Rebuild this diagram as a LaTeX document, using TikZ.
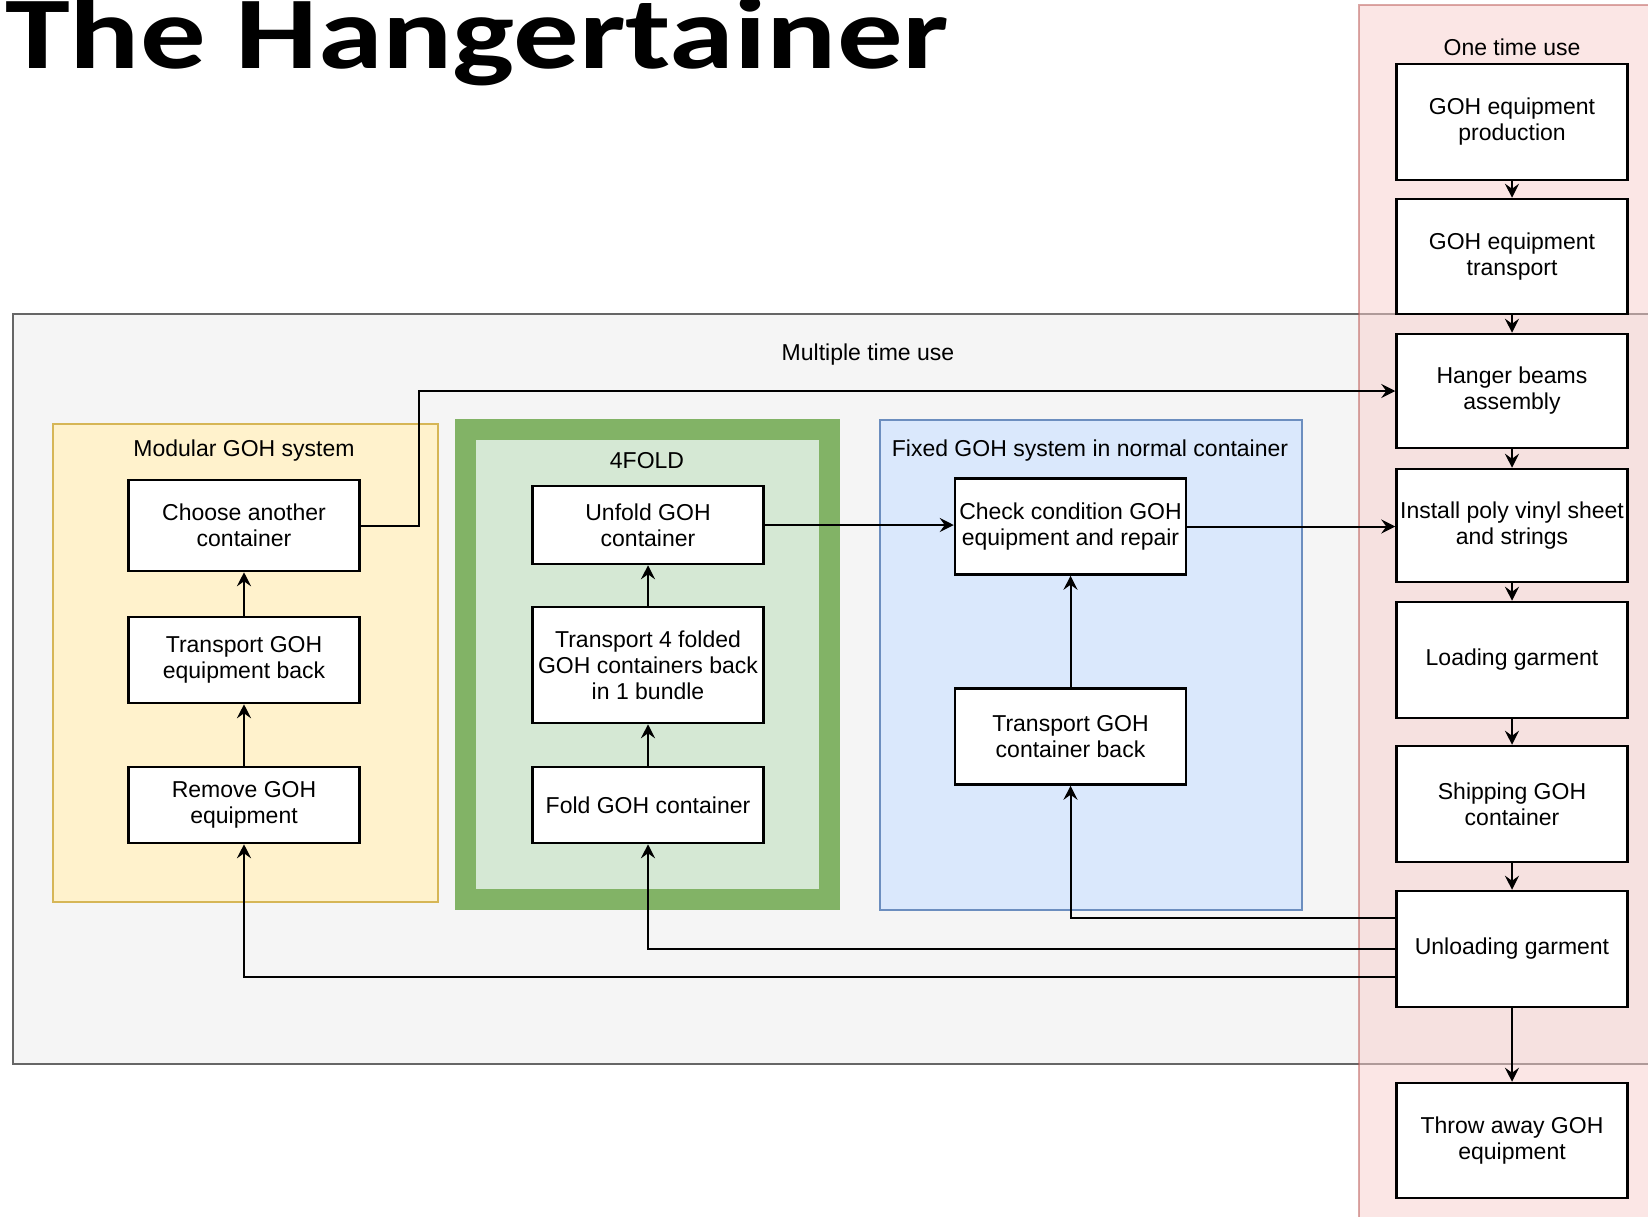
\documentclass[tikz,border=0pt]{standalone}
\usepackage{fontspec}
\setmainfont{Liberation Sans}
\newfontfamily\titlefont{Carlito}
\usetikzlibrary{arrows.meta}

\definecolor{multifill}{HTML}{F5F5F5}
\definecolor{multidraw}{HTML}{666666}
\definecolor{onefill}{HTML}{F8CECC}
\definecolor{onedraw}{HTML}{B85450}
\definecolor{modfill}{HTML}{FFF2CC}
\definecolor{moddraw}{HTML}{D6B656}
\definecolor{foldfill}{HTML}{D5E8D4}
\definecolor{folddraw}{HTML}{82B366}
\definecolor{fixfill}{HTML}{DAE8FC}
\definecolor{fixdraw}{HTML}{6C8EBF}

\begin{document}
\begin{tikzpicture}[
  x=1pt, y=-1pt,
  step_box/.style={rectangle, draw, line width=2.5pt, fill=white, minimum width=231pt, inner sep=1pt, align=center, font=\fontsize{23}{26}\selectfont},
  group_label/.style={inner sep=0pt, font=\fontsize{23}{26}\selectfont},
  flow_arrow/.style={line width=2pt, -{Stealth[length=14pt, width=14pt, inset=5pt]}},
]
\useasboundingbox (0,0) rectangle (1648,1216);

% groups
\draw[fill=multifill, draw=multidraw, line width=2pt] (13,314) rectangle (1670,1064);
\draw[fill=onefill, draw=onedraw, line width=2pt, fill opacity=0.5, draw opacity=0.5] (1359,5) rectangle (1670,1240);
\draw[fill=modfill, draw=moddraw, line width=2pt] (53,424) rectangle (438,902);
\draw[fill=foldfill, draw=folddraw, line width=21pt] (465,429.5) rectangle (829.5,899.5);
\draw[fill=fixfill, draw=fixdraw, line width=2pt] (879.5,420) rectangle (1301.5,910);

\draw (5,68) node (title) [anchor=base west, inner sep=0pt, font=\titlefont\bfseries\fontsize{103}{110}\selectfont] {\scalebox{1.27}[1]{The Hangertainer}};
\draw (868,355) node (multi) [group_label] {Multiple time use};
\draw (1512,47) node (once) [group_label] {One time use};
\draw (244,451) node (modular) [group_label] {Modular GOH system};
\draw (647,461) node (fourfold) [group_label] {4FOLD};
\draw (1090,451) node (fixed) [group_label] {Fixed GOH system in normal container};

% one time use
\draw (1512,122) node (prod) [step_box, minimum height=116pt] {GOH equipment\\production};
\draw (1512,256.5) node (trans_eq) [step_box, minimum height=115pt] {GOH equipment\\transport};
\draw (1512,391) node (hanger) [step_box, minimum height=114pt] {Hanger beams\\assembly};
\draw (1512,525.5) node (install) [step_box, minimum height=113pt] {Install poly vinyl sheet\\and strings};
\draw (1512,660) node (loading) [step_box, minimum height=116pt] {Loading garment};
\draw (1512,804) node (shipping) [step_box, minimum height=116pt] {Shipping GOH\\container};
\draw (1512,949) node (unload) [step_box, minimum height=116pt] {Unloading garment};
\draw (1512,1140.5) node (throw) [step_box, minimum height=115pt] {Throw away GOH\\equipment};

% modular
\draw (244,525.5) node (choose) [step_box, minimum height=91pt] {Choose another\\container};
\draw (244,660) node (back_eq) [step_box, minimum height=86pt] {Transport GOH\\equipment back};
\draw (244,805) node (remove) [step_box, minimum height=76pt] {Remove GOH\\equipment};

% 4fold
\draw (648,525) node (unfold) [step_box, minimum height=78pt] {Unfold GOH\\container};
\draw (648,665) node (bundle) [step_box, minimum height=116pt] {Transport 4 folded\\GOH containers back\\in 1 bundle};
\draw (648,805) node (fold) [step_box, minimum height=76pt] {Fold GOH container};

% fixed
\draw (1070.5,526.5) node (check) [step_box, minimum height=96pt] {Check condition GOH\\equipment and repair};
\draw (1070.5,736.5) node (back_cont) [step_box, minimum height=96pt] {Transport GOH\\container back};

% arrows
\draw[flow_arrow] (prod) -- (trans_eq);
\draw[flow_arrow] (trans_eq) -- (hanger);
\draw[flow_arrow] (hanger) -- (install);
\draw[flow_arrow] (install) -- (loading);
\draw[flow_arrow] (loading) -- (shipping);
\draw[flow_arrow] (shipping) -- (unload);
\draw[flow_arrow] (unload) -- (throw);
\draw[flow_arrow] (remove) -- (back_eq);
\draw[flow_arrow] (back_eq) -- (choose);
\draw[flow_arrow] (fold) -- (bundle);
\draw[flow_arrow] (bundle) -- (unfold);
\draw[flow_arrow] (back_cont) -- (check);
\draw[flow_arrow] (choose.east) -- ++(58,0) |- (hanger.west);
\draw[flow_arrow] (unfold.east) -- (unfold.east -| check.west);
\draw[flow_arrow] (check.east) -- (check.east -| install.west);
\draw[flow_arrow] ([yshift=31pt]unload.west) -| (back_cont.south);
\draw[flow_arrow] (unload.west) -| (fold.south);
\draw[flow_arrow] ([yshift=-28pt]unload.west) -| (remove.south);
\end{tikzpicture}
\end{document}
